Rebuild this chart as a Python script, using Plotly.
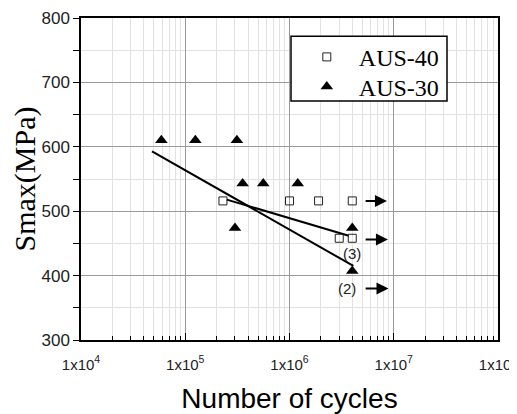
import plotly.graph_objects as go
import numpy as np

# AUS-40 (open squares)
aus40_n = [2.3e5, 1.0e6, 1.9e6, 4.0e6, 3.0e6, 4.0e6]
aus40_s = [516, 516, 516, 516, 458, 458]
# AUS-30 (filled triangles)
aus30_n = [5.9e4, 1.25e5, 3.13e5, 3.55e5, 5.6e5, 1.2e6, 3.0e5, 4.0e6, 4.0e6]
aus30_s = [610, 610, 610, 543, 543, 543, 474, 474, 407]
# fitted lines (endpoints)
fit30_n = [4.8e4, 4.1e6]
fit30_s = [593, 415]
fit40_n = [2.5e5, 3.7e6]
fit40_s = [518, 462]
# run-out arrows
arrow_s = [516, 456, 380]
arrow_n_start = [5.2e6, 5.2e6, 5.2e6]
arrow_n_end = [8.6e6, 8.8e6, 8.9e6]
# labels
label_text = ["(3)", "(2)"]
label_n = [4.0e6, 3.55e6]
label_s = [434, 380]

xt_vals = [1e4, 1e5, 1e6, 1e7, 1e8]
xt_text = ["1x10<sup>%d</sup>" % int(np.log10(v)) for v in xt_vals]
minor_x = [m * 10**d for d in range(4, 8) for m in range(2, 10)]

NB = "\u00a0"

fig = go.Figure()
fig.add_trace(go.Scatter(x=fit30_n, y=fit30_s, mode="lines", line=dict(color="black", width=2), showlegend=False))
fig.add_trace(go.Scatter(x=fit40_n, y=fit40_s, mode="lines", line=dict(color="black", width=2), showlegend=False))
fig.add_trace(go.Scatter(x=aus40_n, y=aus40_s, mode="markers", name=NB * 2 + "AUS-40", legend="legend",
                         marker=dict(symbol="square-open", size=8, color="#222", line=dict(width=1))))
fig.add_trace(go.Scatter(x=aus30_n, y=aus30_s, mode="markers", name=NB * 2 + "AUS-30", legend="legend2",
                         marker=dict(symbol="triangle-up", size=11, color="black")))

for s, a, b in zip(arrow_s, arrow_n_start, arrow_n_end):
    fig.add_annotation(x=np.log10(b), y=s, ax=np.log10(a), ay=s, xref="x", yref="y",
                       axref="x", ayref="y", text="", showarrow=True, arrowhead=2,
                       arrowsize=1.2, arrowwidth=2, arrowcolor="black")
for t, n, s in zip(label_text, label_n, label_s):
    fig.add_annotation(x=np.log10(n), y=s, text=t, showarrow=False, xanchor="center",
                       font=dict(family="Liberation Sans, Arial", size=15, color="#222"))

# legend frame
fig.add_shape(type="rect", xref="paper", yref="paper", x0=0.5036, x1=0.8777, y0=0.742, y1=0.9436,
              line=dict(color="black", width=1.5), fillcolor="white", layer="above")

fig.update_xaxes(type="log", range=[4, 8], tickmode="array", tickvals=xt_vals, ticktext=xt_text,
                 ticks="inside", ticklen=7, tickwidth=1.2, tickcolor="black",
                 showline=True, linecolor="black", linewidth=1.5, mirror=True,
                 showgrid=True, gridcolor="#9a9a9a", gridwidth=1,
                 minor=dict(tickmode="array", tickvals=minor_x, ticks="inside", ticklen=4,
                            tickcolor="black", showgrid=True, gridcolor="#e2e2e2", gridwidth=1),
                 tickfont=dict(family="Liberation Sans, Arial", size=15, color="#222"),
                 ticklabeloverflow="allow", ticklabelstandoff=10,
                 title=dict(text="Number of cycles", standoff=17,
                            font=dict(family="Liberation Sans, Arial", size=28, color="black")),
                 zeroline=False, automargin=False)
fig.update_yaxes(range=[300, 800], tickmode="linear", tick0=300, dtick=100,
                 ticks="outside", ticklen=6, tickwidth=1.2, tickcolor="black",
                 showline=True, linecolor="black", linewidth=1.5, mirror=True,
                 showgrid=True, gridcolor="#9a9a9a", gridwidth=1,
                 minor=dict(dtick=50, ticks="outside", ticklen=6, tickcolor="black",
                            showgrid=True, gridcolor="#e2e2e2", gridwidth=1),
                 tickfont=dict(family="Liberation Sans, Arial", size=17, color="#222"),
                 title=dict(text="Smax(MPa)", standoff=7,
                            font=dict(family="Liberation Serif, Times New Roman", size=30, color="black")),
                 zeroline=False, automargin=False)

leg_common = dict(xanchor="left", yanchor="middle", bgcolor="rgba(0,0,0,0)", borderwidth=0,
                  font=dict(family="Liberation Serif, Times New Roman", size=24, color="black"),
                  itemwidth=30)
fig.update_layout(
    width=509, height=406,
    margin=dict(l=73, r=19, t=10, b=74),
    paper_bgcolor="white", plot_bgcolor="white",
    legend=dict(x=0.5415, y=0.878, **leg_common),
    legend2=dict(x=0.5415, y=0.786, **leg_common),
)

fig.write_html("out.html")
